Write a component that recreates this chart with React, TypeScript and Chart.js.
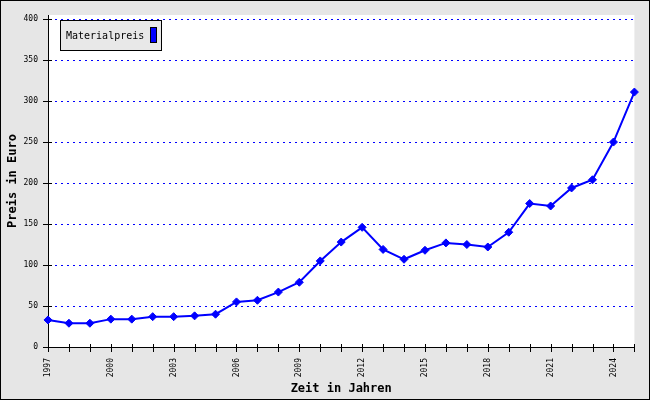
import React, { useEffect, useRef } from 'react';
import { Chart, registerables } from 'chart.js';

Chart.register(...registerables);

const years = [
  '1997', '1998', '1999', '2000', '2001', '2002', '2003', '2004', '2005', '2006',
  '2007', '2008', '2009', '2010', '2011', '2012', '2013', '2014', '2015', '2016',
  '2017', '2018', '2019', '2020', '2021', '2022', '2023', '2024', '2025',
];
const materialpreis = [
  33, 29, 29, 34, 34, 37, 37, 38, 40, 55,
  57, 67, 79, 105, 128, 146, 119, 107, 118, 127,
  125, 122, 140, 175, 172, 194, 204, 250, 311,
];
const seriesLabel = 'Materialpreis';
const xTitle = 'Zeit in Jahren';
const yTitle = 'Preis in Euro';
const yTickStep = 50;
const yTopValue = 405;
const xLabelEvery = 3;

const MONO = '"DejaVu Sans Mono", "Liberation Mono", monospace';

const framePlugin = {
  id: 'frame',
  beforeDraw(chart: any) {
    const { ctx, chartArea, width, height } = chart;
    ctx.save();
    ctx.fillStyle = '#e6e6e6';
    ctx.fillRect(0, 0, width, height);
    ctx.fillStyle = '#ffffff';
    ctx.fillRect(chartArea.left, chartArea.top, chartArea.right - chartArea.left, chartArea.bottom - chartArea.top);
    ctx.restore();
  },
  afterDraw(chart: any) {
    const { ctx, width, height, scales } = chart;
    ctx.save();
    // tick marks crossing the axes
    ctx.strokeStyle = '#000000';
    ctx.lineWidth = 1;
    const x = scales.x;
    const y = scales.y;
    ctx.beginPath();
    for (let i = 0; i < x.ticks.length; i++) {
      const px = Math.round(x.getPixelForTick(i)) + 0.5;
      ctx.moveTo(px, x.top - 3);
      ctx.lineTo(px, x.top + 5);
    }
    for (let i = 0; i < y.ticks.length; i++) {
      const py = Math.round(y.getPixelForTick(i)) + 0.5;
      ctx.moveTo(y.right - 5, py);
      ctx.lineTo(y.right + 4, py);
    }
    ctx.stroke();
    // legend box
    ctx.fillStyle = '#e8e8e8';
    ctx.fillRect(60, 20, 102, 31);
    ctx.strokeStyle = '#000000';
    ctx.strokeRect(60.5, 20.5, 101, 30);
    ctx.fillStyle = '#000000';
    ctx.font = '10px ' + MONO;
    ctx.textBaseline = 'middle';
    ctx.textAlign = 'left';
    ctx.fillText(seriesLabel, 66, 36);
    ctx.fillStyle = '#0000ff';
    ctx.fillRect(150, 27, 7, 16);
    ctx.strokeRect(150.5, 27.5, 6, 15);
    // outer frame
    ctx.strokeStyle = '#000000';
    ctx.strokeRect(0.5, 0.5, width - 1, height - 1);
    ctx.restore();
  },
};

export default function App() {
  const ref = useRef<HTMLCanvasElement | null>(null);

  useEffect(() => {
    document.body.style.margin = '0';
    if (!ref.current) return;
    const chart = new Chart(ref.current, {
      type: 'line',
      data: {
        labels: years,
        datasets: [
          {
            label: seriesLabel,
            data: materialpreis,
            borderColor: '#0000ff',
            backgroundColor: '#0000ff',
            borderWidth: 2,
            tension: 0,
            pointStyle: 'rectRot',
            pointRadius: 4,
            pointBorderWidth: 1,
            pointBorderColor: '#0000ff',
            pointBackgroundColor: '#0000ff',
          },
        ],
      },
      options: {
        responsive: false,
        animation: false,
        devicePixelRatio: 1,
        layout: { padding: { left: 0, top: 15, right: 14, bottom: 0 } },
        plugins: {
          legend: { display: false },
          tooltip: { enabled: false },
        },
        scales: {
          x: {
            type: 'category',
            offset: false,
            afterFit: (s: any) => { s.height = 53; },
            grid: {
              drawOnChartArea: false,
              drawTicks: true,
              tickLength: 5,
              tickColor: 'rgba(0,0,0,0)',
            },
            border: { display: true, color: '#000000', width: 1 },
            ticks: {
              autoSkip: false,
              minRotation: 90,
              maxRotation: 90,
              padding: 6,
              color: '#000000',
              font: { family: MONO, size: 8 },
              callback: (_v: any, i: number) => (i % xLabelEvery === 0 ? years[i] : ''),
            },
            title: {
              display: true,
              text: xTitle,
              color: '#000000',
              font: { family: MONO, size: 12, weight: 'bold' },
              padding: { top: 0, bottom: 4 },
            },
          },
          y: {
            type: 'linear',
            min: 0,
            max: yTopValue,
            afterFit: (s: any) => { s.width = 48; },
            grid: {
              drawTicks: true,
              tickLength: 5,
              tickColor: 'rgba(0,0,0,0)',
              color: (c: any) => (c.tick && c.tick.value === 0 ? 'rgba(0,0,0,0)' : '#0000ff'),
              lineWidth: 1,
            },
            border: { display: true, color: '#000000', width: 1, dash: [2, 4] },
            ticks: {
              stepSize: yTickStep,
              includeBounds: false,
              padding: 5,
              color: '#000000',
              font: { family: MONO, size: 8 },
            },
            title: {
              display: true,
              text: yTitle,
              color: '#000000',
              font: { family: MONO, size: 12, weight: 'bold' },
              padding: { top: 6, bottom: 0 },
            },
          },
        },
      },
      plugins: [framePlugin],
    } as any);
    return () => chart.destroy();
  }, []);

  return <canvas ref={ref} width={650} height={400} style={{ display: 'block' }} />;
}
